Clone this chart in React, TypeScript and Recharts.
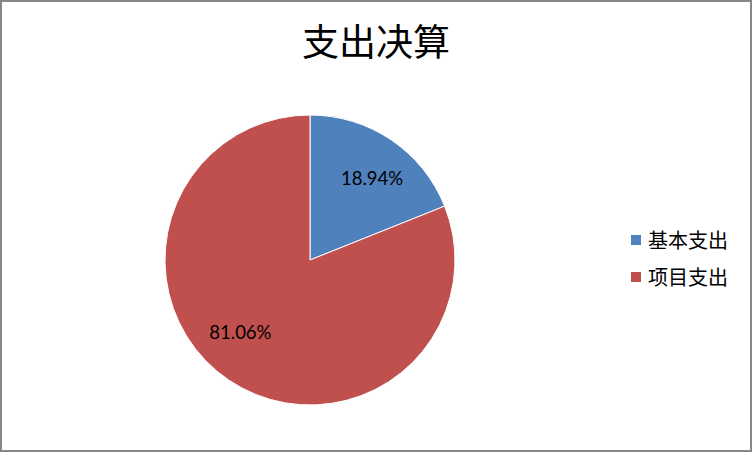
import React from 'react';
import { PieChart, Pie, Cell, Legend } from 'recharts';

const categories = ['基本支出', '项目支出'];
const shares = [18.94, 81.06];
const colors = ['#4F81BD', '#C0504D'];

const data = categories.map((name, i) => ({ name, value: shares[i] }));

const RADIAN = Math.PI / 180;

const renderLabel = (props: any) => {
  const { cx, cy, midAngle, outerRadius, value } = props;
  // large slices get their label pulled round toward the left, like the original
  const angle = value > 50 ? midAngle - 10 : midAngle - 3;
  const r = outerRadius * (value > 50 ? 0.69 : 0.71);
  const x = cx + r * Math.cos(-angle * RADIAN);
  const y = cy + r * Math.sin(-angle * RADIAN);
  return (
    <text
      x={x}
      y={y}
      fill="#000"
      textAnchor="middle"
      dominantBaseline="central"
      style={{ fontFamily: 'Lato, "Open Sans", sans-serif', fontSize: 18.5 }}
    >
      {value.toFixed(2)}%
    </text>
  );
};

const renderLegend = () => (
  <div style={{ fontFamily: '"Noto Sans CJK SC", sans-serif', fontSize: 20, color: '#000' }}>
    {categories.map((c, i) => (
      <div key={c} style={{ display: 'flex', alignItems: 'center', height: 37 }}>
        <span style={{ width: 10, height: 10, background: colors[i], marginRight: 7, display: 'inline-block' }} />
        <span>{c}</span>
      </div>
    ))}
  </div>
);

export default function App() {
  return (
    <div style={{ position: 'fixed', left: 0, top: 0, width: 752, height: 452, background: '#fff' }}>
      <div
        style={{
          position: 'absolute',
          left: 0,
          top: 12,
          width: 752,
          textAlign: 'center',
          fontFamily: '"Noto Sans CJK SC", sans-serif',
          fontSize: 37,
          lineHeight: '56px',
          color: '#000',
        }}
      >
        支出决算
      </div>
      <PieChart
        width={752}
        height={452}
        margin={{ top: 0, right: 0, bottom: 0, left: 0 }}
        style={{ position: 'absolute', left: 0, top: 0 }}
      >
        <Pie
          data={data}
          dataKey="value"
          nameKey="name"
          cx={310}
          cy={260}
          outerRadius={145}
          startAngle={90}
          endAngle={-270}
          stroke="#fff"
          strokeWidth={1}
          label={renderLabel}
          labelLine={false}
          isAnimationActive={false}
        >
          {data.map((d, i) => (
            <Cell key={d.name} fill={colors[i]} />
          ))}
        </Pie>
        <Legend
          content={renderLegend}
          wrapperStyle={{ left: 631, top: 221, width: 120 }}
        />
      </PieChart>
      <div
        style={{
          position: 'absolute',
          inset: 0,
          border: '2px solid #878787',
          pointerEvents: 'none',
        }}
      />
    </div>
  );
}
